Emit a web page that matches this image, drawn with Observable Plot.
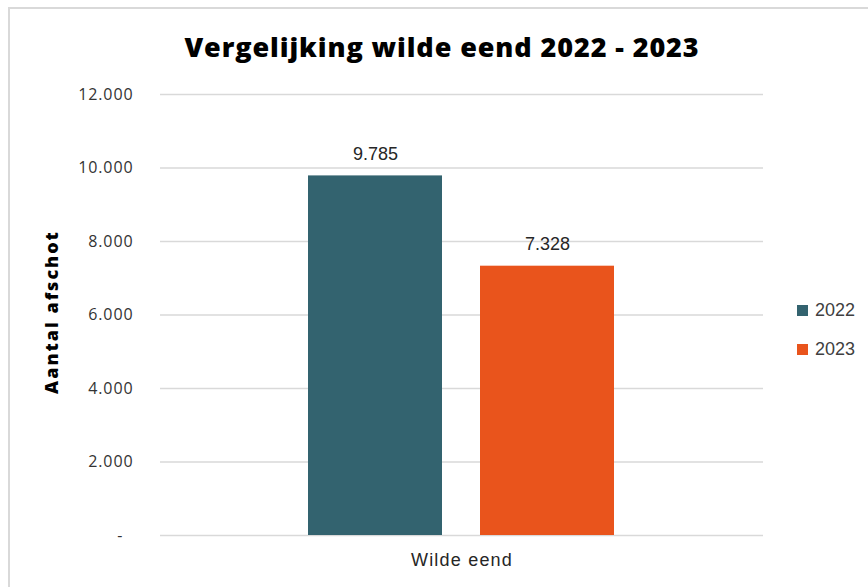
<!DOCTYPE html>
<html>
<head>
<meta charset="utf-8">
<script src="https://cdn.jsdelivr.net/npm/d3@7"></script>
<script src="https://cdn.jsdelivr.net/npm/@observablehq/plot@0.6"></script>
<style>
  html, body { margin: 0; padding: 0; background: #fff; }
  #wrap { position: relative; width: 868px; height: 587px; overflow: hidden; background: #fff; }
  #frame { position: absolute; left: 8px; top: 7px; width: 900px; height: 700px;
           border-left: 2px solid #d9d9d9; border-top: 2px solid #d9d9d9; box-sizing: border-box; }
  #title { position: absolute; left: 0; top: 0; width: 884px; height: 80px; line-height: 94px;
           text-align: center; font-family: "Open Sans", sans-serif; font-weight: 800;
           font-size: 27px; letter-spacing: 0.9px; color: #000; }
  #chart { position: absolute; left: 0; top: 80px; }
  #legend { position: absolute; left: 797px; top: 298px; font-family: "Liberation Sans", Arial, sans-serif;
            font-size: 18px; color: #404040; }
  .li { display: flex; align-items: center; height: 24px; margin-bottom: 15px; }
  .sw { width: 11px; height: 11px; margin-right: 7px; }
  g[aria-label="y-axis tick label"] text { letter-spacing: 0.9px; }
</style>
</head>
<body>
<div id="wrap">
  <div id="frame"></div>
  <div id="title">Vergelijking wilde eend 2022 - 2023</div>
  <div id="chart"></div>
  <div id="legend"></div>
</div>
<script>
const categories = ["Wilde eend"];
const years = ["2022", "2023"];
const values = [9785, 7328];
const colors = ["#33636f", "#e9541c"];
const yTicks = [0, 2000, 4000, 6000, 8000, 10000, 12000];
const yTitle = "Aantal afschot";

const data = years.map((y, i) => ({category: categories[0], year: y, value: values[i]}));
const nl = d => d3.format(",")(d).replace(/,/g, ".");

const chart = Plot.plot({
  width: 868,
  height: 507,
  marginTop: 14,
  marginBottom: 52,
  marginLeft: 160,
  marginRight: 105,
  style: {fontFamily: "'Liberation Sans', Arial, sans-serif", background: "transparent"},
  x: {domain: years, range: [308, 615], paddingInner: 0.22, paddingOuter: 0, axis: null},
  y: {domain: [0, 12000], ticks: yTicks, label: null},
  color: {domain: years, range: colors},
  marks: [
    Plot.ruleY(yTicks, {stroke: "#d9d9d9", strokeWidth: 1.5}),
    Plot.barY(data, {x: "year", y: "value", fill: "year"}),
    Plot.text(data, {x: "year", y: "value", text: d => nl(d.value), dy: -22,
      fontSize: 18, fill: "#262626"}),
    Plot.text(categories, {text: d => d, frameAnchor: "bottom", dy: 30, fontSize: 18,
      fill: "#262626"}),
    Plot.axisY(yTicks, {tickSize: 0, tickPadding: 27, fontSize: 16,
      fontFamily: "'Open Sans', sans-serif", fill: "#333",
      tickFormat: d => d === 0 ? "-\u00a0\u00a0" : nl(d), label: null}),
    Plot.text([yTitle], {text: d => d, frameAnchor: "left", textAnchor: "middle",
      rotate: -90, dx: -108, dy: -3,
      fontSize: 18, fontWeight: 800, fontFamily: "'Open Sans', sans-serif", fill: "#000"})
  ]
});
d3.select(chart).selectAll("text")
  .filter(function() { return this.textContent === yTitle; })
  .style("letter-spacing", "2px");
d3.select(chart).selectAll("text")
  .filter(function() { return this.textContent === categories[0]; })
  .style("letter-spacing", "1.2px");
document.getElementById("chart").appendChild(chart);

const legend = document.getElementById("legend");
years.forEach((y, i) => {
  const row = document.createElement("div");
  row.className = "li";
  row.innerHTML = `<span class="sw" style="background:${colors[i]}"></span><span>${y}</span>`;
  legend.appendChild(row);
});
</script>
</body>
</html>
